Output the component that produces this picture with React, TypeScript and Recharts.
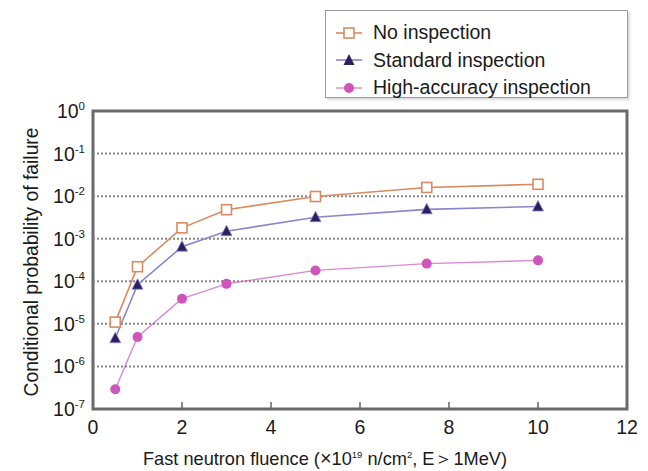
import React from 'react'
import {
  LineChart,
  Line,
  XAxis,
  YAxis,
  ReferenceLine,
  ReferenceArea,
  Legend
} from 'recharts'

// fluence (x10^19 n/cm2) and conditional failure probabilities
const fluence = [0.5, 1, 2, 3, 5, 7.5, 10]
const noInspection = [1.1e-5, 2.2e-4, 1.8e-3, 4.8e-3, 9.8e-3, 1.6e-2, 1.9e-2]
const standardInspection = [4.6e-6, 8.3e-5, 6.5e-4, 1.5e-3, 3.2e-3, 4.9e-3, 5.7e-3]
const highAccuracyInspection = [2.9e-7, 4.9e-6, 3.9e-5, 8.7e-5, 1.8e-4, 2.6e-4, 3.1e-4]

const xTicks = [0, 2, 4, 6, 8, 10, 12]
const yTicks = [1e-7, 1e-6, 1e-5, 1e-4, 1e-3, 1e-2, 1e-1, 1]
const gridValues = [1e-6, 1e-5, 1e-4, 1e-3, 1e-2, 1e-1]

const seriesNames = ['No inspection', 'Standard inspection', 'High-accuracy inspection']

const FONT = '"Liberation Sans", Arial, Helvetica, sans-serif'
const ORANGE = '#d98b60'
const BLUE_LINE = '#8a86cc'
const NAVY = '#2c2160'
const MAGENTA = '#cf55bd'

const data = fluence.map((f, i) => ({
  fluence: f,
  none: noInspection[i],
  standard: standardInspection[i],
  high: highAccuracyInspection[i]
}))

const SquareDot = ({ cx, cy }: any) => (
  <rect x={cx - 5} y={cy - 5} width={10} height={10} fill="#fff" stroke={ORANGE} strokeWidth={1.6} />
)

const TriangleDot = ({ cx, cy }: any) => (
  <polygon
    points={`${cx},${cy - 6} ${cx - 5.5},${cy + 4.5} ${cx + 5.5},${cy + 4.5}`}
    fill={NAVY}
    stroke={BLUE_LINE}
    strokeWidth={0.8}
  />
)

const CircleDot = ({ cx, cy }: any) => <circle cx={cx} cy={cy} r={5} fill={MAGENTA} />

const YTick = ({ x, y, payload }: any) => {
  const e = Math.round(Math.log10(payload.value))
  return (
    <text x={x} y={y + 7} textAnchor="end" fontFamily={FONT} fontSize={19.5} fill="#1a1a1a">
      <tspan>10</tspan>
      <tspan dy={-8} fontSize={11.5}>{e}</tspan>
    </text>
  )
}

const XTick = ({ x, y, payload }: any) => (
  <g>
    {payload.value > 0 && payload.value < 12 && (
      <line x1={x} y1={y} x2={x} y2={y - 7} stroke="#666" strokeWidth={1.5} />
    )}
    <text x={x} y={y + 25} textAnchor="middle" fontFamily={FONT} fontSize={19.5} fill="#1a1a1a">
      {payload.value}
    </text>
  </g>
)

const YLabel = () => (
  <text
    x={31}
    y={262}
    transform="rotate(-90 31 262)"
    textAnchor="middle"
    dominantBaseline="central"
    fontFamily={FONT}
    fontSize={19.3}
    fill="#1a1a1a"
  >
    Conditional probability of failure
  </text>
)

const XLabel = () => (
  <text x={325} y={465} textAnchor="middle" fontFamily={FONT} fontSize={18.2} fill="#1a1a1a">
    <tspan>Fast neutron fluence (</tspan>
    <tspan fontSize={20}>{'\u00D7'}</tspan>
    <tspan>10</tspan>
    <tspan dy={-7} fontSize={9.5}>19</tspan>
    <tspan dy={7}> n/cm</tspan>
    <tspan dy={-7} fontSize={9.5}>2</tspan>
    <tspan dy={7}>, E</tspan>
    <tspan fontSize={19}>{'\uFF1E'}</tspan>
    <tspan>1MeV)</tspan>
  </text>
)

const markers = [
  <svg width={26} height={14} key="a">
    <line x1={0} y1={7} x2={26} y2={7} stroke={ORANGE} strokeWidth={1.6} />
    <rect x={8} y={2} width={10} height={10} fill="#fff" stroke={ORANGE} strokeWidth={1.6} />
  </svg>,
  <svg width={26} height={14} key="b">
    <line x1={0} y1={7} x2={26} y2={7} stroke={BLUE_LINE} strokeWidth={1.6} />
    <polygon points="13,1 7.5,12 18.5,12" fill={NAVY} />
  </svg>,
  <svg width={26} height={14} key="c">
    <line x1={0} y1={7} x2={26} y2={7} stroke={MAGENTA} strokeWidth={1.6} opacity={0.6} />
    <circle cx={13} cy={7} r={5} fill={MAGENTA} />
  </svg>
]

const LegendBox = () => (
  <div
    style={{
      width: 303,
      height: 88,
      border: '1.5px solid #9a9a9a',
      boxShadow: '2px 2px 2px #ddd',
      background: '#fff',
      boxSizing: 'border-box',
      paddingTop: 8,
      paddingLeft: 10,
      fontFamily: FONT,
      fontSize: 19.5,
      color: '#1a1a1a'
    }}
  >
    {seriesNames.map((name, i) => (
      <div key={name} style={{ display: 'flex', alignItems: 'center', height: 27.5 }}>
        {markers[i]}
        <span style={{ marginLeft: 11 }}>{name}</span>
      </div>
    ))}
  </div>
)

export default function App() {
  return (
    <div style={{ position: 'absolute', left: 0, top: 0, background: '#fff' }}>
      <LineChart width={648} height={471} data={data} margin={{ top: 111, right: 21, bottom: 22, left: 33 }}>
        <XAxis
          dataKey="fluence"
          type="number"
          domain={[0, 12]}
          ticks={xTicks}
          axisLine={false}
          tickLine={false}
          tickSize={0}
          tickMargin={0}
          height={40}
          tick={<XTick />}
          label={<XLabel />}
        />
        <YAxis
          scale="log"
          domain={[1e-7, 1]}
          allowDataOverflow
          ticks={yTicks}
          axisLine={false}
          tickLine={false}
          tickSize={0}
          tickMargin={8}
          width={60}
          tick={<YTick />}
          label={<YLabel />}
        />
        {gridValues.map((v) => (
          <ReferenceLine key={v} y={v} stroke="#858585" strokeWidth={2} strokeDasharray="2 2" />
        ))}
        <ReferenceArea x1={0} x2={12} y1={1e-7} y2={1} fill="none" stroke="#6a6a6a" strokeWidth={3} />
        <Legend
          layout="vertical"
          align="center"
          verticalAlign="middle"
          content={<LegendBox />}
          wrapperStyle={{ position: 'absolute', left: 325, top: 10, width: 303, height: 88 }}
        />
        <Line
          type="linear"
          dataKey="none"
          name={seriesNames[0]}
          stroke={ORANGE}
          strokeWidth={1.6}
          dot={<SquareDot />}
          isAnimationActive={false}
        />
        <Line
          type="linear"
          dataKey="standard"
          name={seriesNames[1]}
          stroke={BLUE_LINE}
          strokeWidth={1.6}
          dot={<TriangleDot />}
          isAnimationActive={false}
        />
        <Line
          type="linear"
          dataKey="high"
          name={seriesNames[2]}
          stroke={MAGENTA}
          strokeOpacity={0.7}
          strokeWidth={1.4}
          dot={<CircleDot />}
          isAnimationActive={false}
        />
      </LineChart>
    </div>
  )
}
